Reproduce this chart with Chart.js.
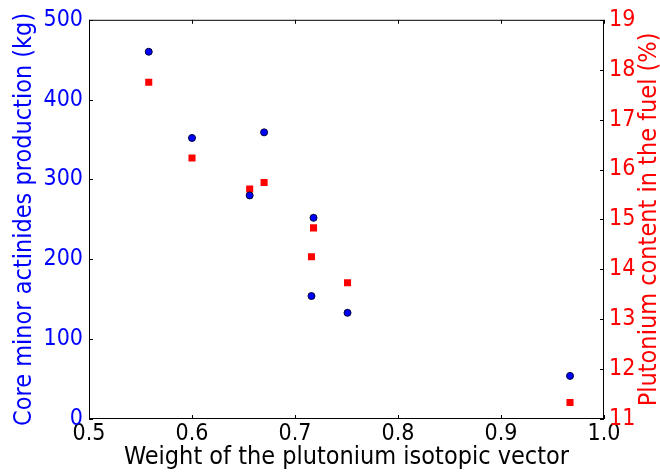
<!DOCTYPE html>
<html>
<head>
<meta charset="utf-8">
<script src="https://cdn.jsdelivr.net/npm/chart.js@4/dist/chart.umd.min.js"></script>
<style>
  html, body { margin: 0; padding: 0; background: #fff; }
  #wrap { width: 660px; height: 473px; }
</style>
</head>
<body>
<div id="wrap"><canvas id="chart"></canvas></div>
<script>
// weight of the plutonium isotopic vector
const weights = [0.558, 0.600, 0.656, 0.670, 0.718, 0.716, 0.751, 0.967]
// core minor actinides production (kg)
const actinides = [460, 352, 280, 359, 252, 154, 133, 54]
// plutonium content in the fuel (%)
const puContent = [17.75, 16.23, 15.61, 15.74, 14.83, 14.25, 13.73, 11.33]

const FAMILY = "'DejaVu Sans Condensed', 'DejaVu Sans', sans-serif"
const TICK_FONT = { family: FAMILY, size: 23 }
const TITLE_FONT = { family: FAMILY, size: 25 }
const rightTitle = "Plutonium content in the fuel (%)"

const toPoints = (xs, ys) => xs.map((x, i) => ({ x: x, y: ys[i] }))

// matplotlib-like frame with ticks pointing inwards, plus the right axis title (reads bottom to top)
const framePlugin = {
  id: "frame",
  afterDraw(chart) {
    const { ctx, chartArea: a, scales } = chart
    const len = 4
    ctx.save()
    ctx.strokeStyle = "#000"
    ctx.lineWidth = 1
    ctx.strokeRect(a.left + 0.5, a.top + 0.5, a.right - a.left - 1, a.bottom - a.top - 1)
    ctx.beginPath()
    scales.x.ticks.forEach(t => {
      const px = Math.round(scales.x.getPixelForValue(t.value)) + 0.5
      ctx.moveTo(px, a.bottom); ctx.lineTo(px, a.bottom - len)
      ctx.moveTo(px, a.top); ctx.lineTo(px, a.top + len)
    })
    scales.y.ticks.forEach(t => {
      const py = Math.round(scales.y.getPixelForValue(t.value)) + 0.5
      ctx.moveTo(a.left, py); ctx.lineTo(a.left + len, py)
    })
    scales.y1.ticks.forEach(t => {
      const py = Math.round(scales.y1.getPixelForValue(t.value)) + 0.5
      ctx.moveTo(a.right, py); ctx.lineTo(a.right - len, py)
    })
    ctx.stroke()

    ctx.translate(649, (a.top + a.bottom) / 2)
    ctx.rotate(-Math.PI / 2)
    ctx.fillStyle = "#ff0000"
    ctx.font = TITLE_FONT.size + "px " + TITLE_FONT.family
    ctx.textAlign = "center"
    ctx.textBaseline = "middle"
    ctx.fillText(rightTitle, 0, 0)
    ctx.restore()
  },
}

new Chart(document.querySelector("#chart"), {
  type: "scatter",
  data: {
    datasets: [
      {
        label: "Core minor actinides production",
        data: toPoints(weights, actinides),
        yAxisID: "y",
        pointStyle: "circle",
        pointRadius: 3.5,
        pointBackgroundColor: "#0000ff",
        pointBorderColor: "#000033",
        pointBorderWidth: 1,
      },
      {
        label: "Plutonium content",
        data: toPoints(weights, puContent),
        yAxisID: "y1",
        pointStyle: "rect",
        pointRadius: 5,
        pointBackgroundColor: "#ff0000",
        pointBorderColor: "#ff0000",
        pointBorderWidth: 0,
      },
    ],
  },
  options: {
    responsive: true,
    maintainAspectRatio: false,
    animation: false,
    layout: { padding: { top: 19, left: 0, right: 0, bottom: 0 } },
    plugins: { legend: { display: false }, tooltip: { enabled: false } },
    scales: {
      x: {
        type: "linear",
        min: 0.5,
        max: 1.0,
        afterFit: s => { s.height = 54 },
        grid: { display: false, drawTicks: false },
        border: { display: false },
        ticks: { stepSize: 0.1, padding: 1, color: "#000", font: TICK_FONT, callback: v => v.toFixed(1) },
        title: { display: true, text: "Weight of the plutonium isotopic vector", color: "#000", font: TITLE_FONT, padding: { top: 0, bottom: 1 } },
      },
      y: {
        position: "left",
        min: 0,
        max: 500,
        afterFit: s => { s.width = 89 },
        grid: { display: false, drawTicks: false },
        border: { display: false },
        ticks: { stepSize: 100, padding: 6, color: "#0000ff", font: TICK_FONT },
        title: { display: true, text: "Core minor actinides production (kg)", color: "#0000ff", font: TITLE_FONT, padding: { top: 9, bottom: 0 } },
      },
      y1: {
        position: "right",
        min: 11,
        max: 19,
        afterFit: s => { s.width = 56 },
        grid: { display: false, drawTicks: false },
        border: { display: false },
        ticks: { stepSize: 1, padding: 5, color: "#ff0000", font: TICK_FONT },
        title: { display: false },
      },
    },
  },
  plugins: [framePlugin],
})
</script>
</body>
</html>
